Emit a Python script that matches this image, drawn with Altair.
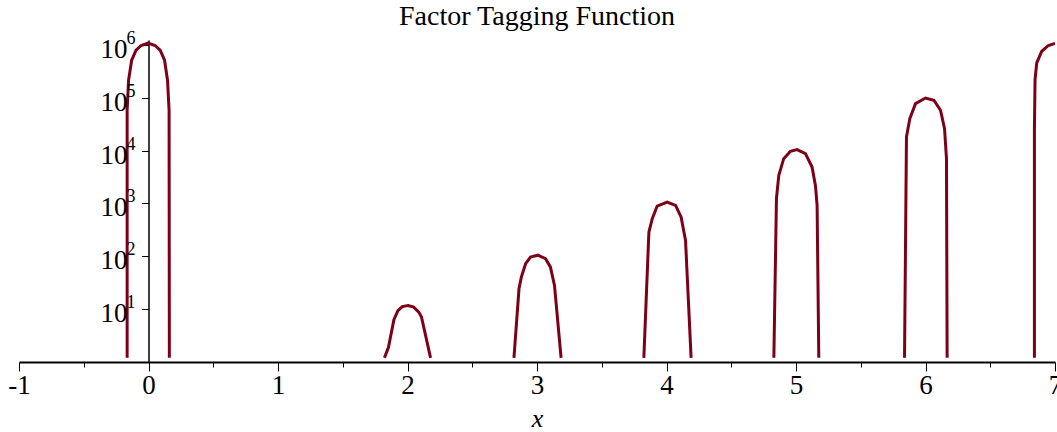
import altair as alt
import pandas as pd

# Sampled points of the tagging function around each integer it tags.
# x positions and function values (plotted on a log axis).
hump_x = {
    "0": [-0.165, -0.165, -0.154, -0.130, -0.096, -0.057, -0.003, 0.051, 0.090, 0.124, 0.147, 0.159, 0.161],
    "2": [1.822, 1.853, 1.895, 1.926, 1.959, 2.005, 2.048, 2.087, 2.108, 2.178],
    "3": [2.822, 2.861, 2.879, 2.912, 2.950, 3.007, 3.066, 3.104, 3.135, 3.186],
    "4": [3.825, 3.864, 3.890, 3.928, 4.005, 4.070, 4.113, 4.147, 4.190],
    "5": [4.829, 4.849, 4.867, 4.905, 4.957, 5.008, 5.073, 5.124, 5.150, 5.163, 5.176],
    "6": [5.838, 5.853, 5.879, 5.923, 6.000, 6.065, 6.116, 6.147, 6.162, 6.167],
    "7": [6.841, 6.841, 6.846, 6.859, 6.898, 6.949, 7.000],
}
hump_y = {
    "0": [1.2, 57500, 214000, 513000, 794000, 977000, 1080000, 977000, 794000, 513000, 214000, 57500, 1.2],
    "2": [1.2, 1.9, 6.3, 9.4, 11.2, 11.7, 10.9, 8.8, 7.1, 1.2],
    "3": [1.2, 24.3, 40.4, 72.4, 96.6, 105, 90.1, 62.4, 28.1, 1.2],
    "4": [1.2, 287, 515, 893, 1064, 920, 552, 200, 1.2],
    "5": [1.2, 1233, 3390, 7050, 9700, 10450, 8770, 4890, 2200, 920, 1.2],
    "6": [1.2, 18100, 40400, 77600, 99100, 89700, 58000, 26100, 7050, 1.2],
    "7": [1.2, 24500, 224000, 457000, 759000, 977000, 1072000],
}

x_ticks = [v / 2 for v in range(-2, 15)]          # -1, -0.5, ..., 7
y_ticks = [10, 100, 1000, 10000, 100000, 1000000]
y_exponents = ["1", "2", "3", "4", "5", "6"]

rows = []
for key in hump_x:
    for i, (xv, yv) in enumerate(zip(hump_x[key], hump_y[key])):
        rows.append({"hump": key, "i": i, "x": xv, "y": yv})
df = pd.DataFrame(rows)

# y tick labels drawn as "10" plus a raised exponent, anchored at x = 0
labels = pd.DataFrame({"x": [0.0] * len(y_ticks), "y": y_ticks, "exp": y_exponents})

FONT = "Liberation Serif"
W, H = 1036, 322

x_axis = alt.Axis(
    values=x_ticks,
    labelExpr="datum.value % 1 !== 0 ? '' : (datum.value < 0 ? '-' + (-datum.value) : '' + datum.value)",
    tickSize={"condition": {"test": "datum.value % 1 === 0", "value": 9}, "value": 5},
    tickColor="black",
    tickWidth=1,
    domainColor="black",
    domainWidth=2,
    labelFont=FONT,
    labelFontSize=27,
    labelColor="black",
    labelPadding=1,
    labelFlush=False,
    grid=False,
    title="x",
    titleFont=FONT,
    titleFontSize=26,
    titleFontStyle="italic",
    titleFontWeight="normal",
    titleColor="black",
    titlePadding=7,
)

y_axis = alt.Axis(
    values=y_ticks,
    labels=False,
    offset=-129.5,
    tickSize=7,
    tickColor="black",
    tickWidth=1,
    domainColor="black",
    domainWidth=1.5,
    grid=False,
    title=None,
)

x_scale = alt.Scale(domain=[-1, 7], nice=False, zero=False)
y_scale = alt.Scale(type="log", domain=[1, 1.24e6], nice=False)

curve = (
    alt.Chart(df)
    .mark_line(color="#7d0017", strokeWidth=3, clip=True)
    .encode(
        x=alt.X("x:Q", scale=x_scale, axis=x_axis),
        y=alt.Y("y:Q", scale=y_scale, axis=y_axis),
        detail="hump:N",
        order="i:Q",
    )
)

base_txt = alt.Chart(labels).encode(
    x=alt.X("x:Q", scale=x_scale, axis=x_axis),
    y=alt.Y("y:Q", scale=y_scale, axis=y_axis),
)

tens = base_txt.mark_text(
    text="10", font=FONT, fontSize=27, color="black",
    align="right", baseline="middle", dx=-21, dy=5,
)
powers = base_txt.mark_text(
    font=FONT, fontSize=18, color="black",
    align="left", baseline="middle", dx=-22, dy=-6,
).encode(text="exp:N")

chart = (
    alt.layer(curve, tens, powers)
    .properties(
        width=W,
        height=H,
        view=alt.ViewBackground(stroke="transparent", strokeWidth=0),
        title=alt.TitleParams(
            "Factor Tagging Function",
            font=FONT,
            fontSize=28,
            fontWeight="normal",
            color="black",
            anchor="middle",
            offset=-1,
        ),
        padding={"left": 19, "top": 40, "right": 2, "bottom": 70},
        autosize=alt.AutoSizeParams(type="none"),
    )
    .configure_view(stroke="transparent", strokeWidth=0, strokeOpacity=0)
    .configure(background="white")
)

chart.save("out.html", embed_options={"renderer": "svg", "actions": False})
